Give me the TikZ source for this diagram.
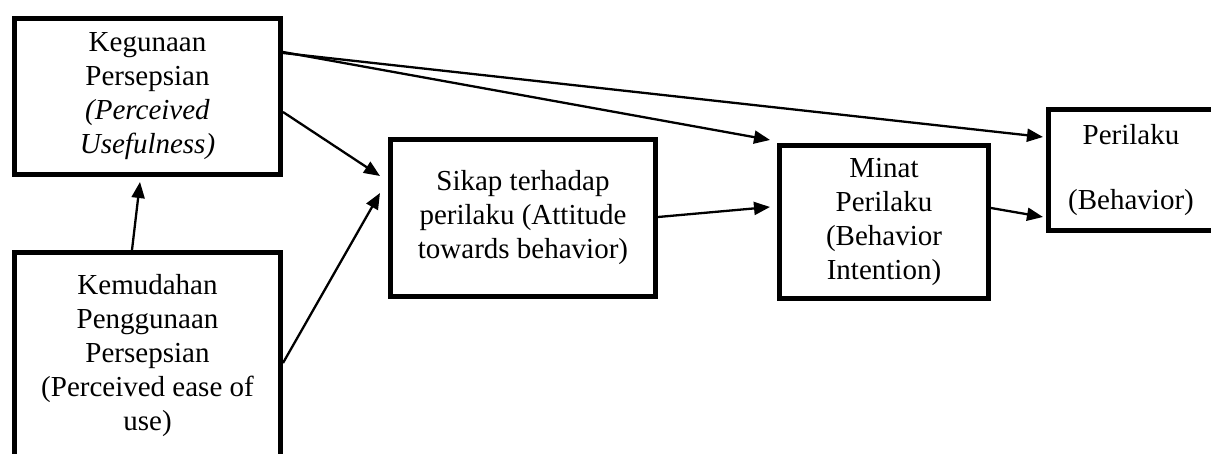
\documentclass[tikz,border=0pt]{standalone}
\usepackage{fontspec}
\setmainfont{Liberation Serif}
\usetikzlibrary{arrows.meta}
\begin{document}
\begin{tikzpicture}[x=1pt,y=-1pt,
  box/.style={draw=black,line width=5pt,rectangle,align=center,inner sep=0pt,
    font=\fontsize{29}{34}\selectfont},
  link/.style={line width=2.3pt,-{Triangle[length=16pt,width=13pt]}}]
\useasboundingbox (0,0) rectangle (1211,454);
\node[box,minimum width=266pt,minimum height=156pt] (K) at (147.5,96.5)
  {Kegunaan\\Persepsian\\\textit{(Perceived}\\\textit{Usefulness)}};
\node[box,minimum width=266pt,minimum height=206pt] (E) at (147.5,355.5)
  {Kemudahan\\Penggunaan\\Persepsian\\(Perceived ease of\\use)};
\node[box,minimum width=265pt,minimum height=157pt] (S) at (523,218)
  {Sikap terhadap\\perilaku (Attitude\\towards behavior)};
\node[box,minimum width=209pt,minimum height=153pt] (M) at (884,222)
  {Minat\\Perilaku\\(Behavior\\Intention)};
\node[box,minimum width=165pt,minimum height=121pt] (P) at (1131,170)
  {Perilaku\\[31pt](Behavior)};
\draw[link] ([xshift=-15.5pt]E.north) -- ([xshift=-7.5pt,yshift=-5pt]K.south);
\draw[link] ([yshift=-15.5pt]K.east) -- ([xshift=-8pt,yshift=42pt]S.west);
\draw[link] ([yshift=-7.5pt]E.east) -- ([xshift=-8pt,yshift=25pt]S.west);
\draw[link] ([yshift=44.5pt]K.east) -- ([xshift=-7pt,yshift=82pt]M.west);
\draw[link] ([yshift=43.5pt]K.east) -- ([xshift=-3pt,yshift=33pt]P.west);
\draw[link] ([yshift=1pt]S.east) -- ([xshift=-7pt,yshift=15pt]M.west);
\draw[link] ([yshift=14pt]M.east) -- ([xshift=-3pt,yshift=-47pt]P.west);
\end{tikzpicture}
\end{document}
